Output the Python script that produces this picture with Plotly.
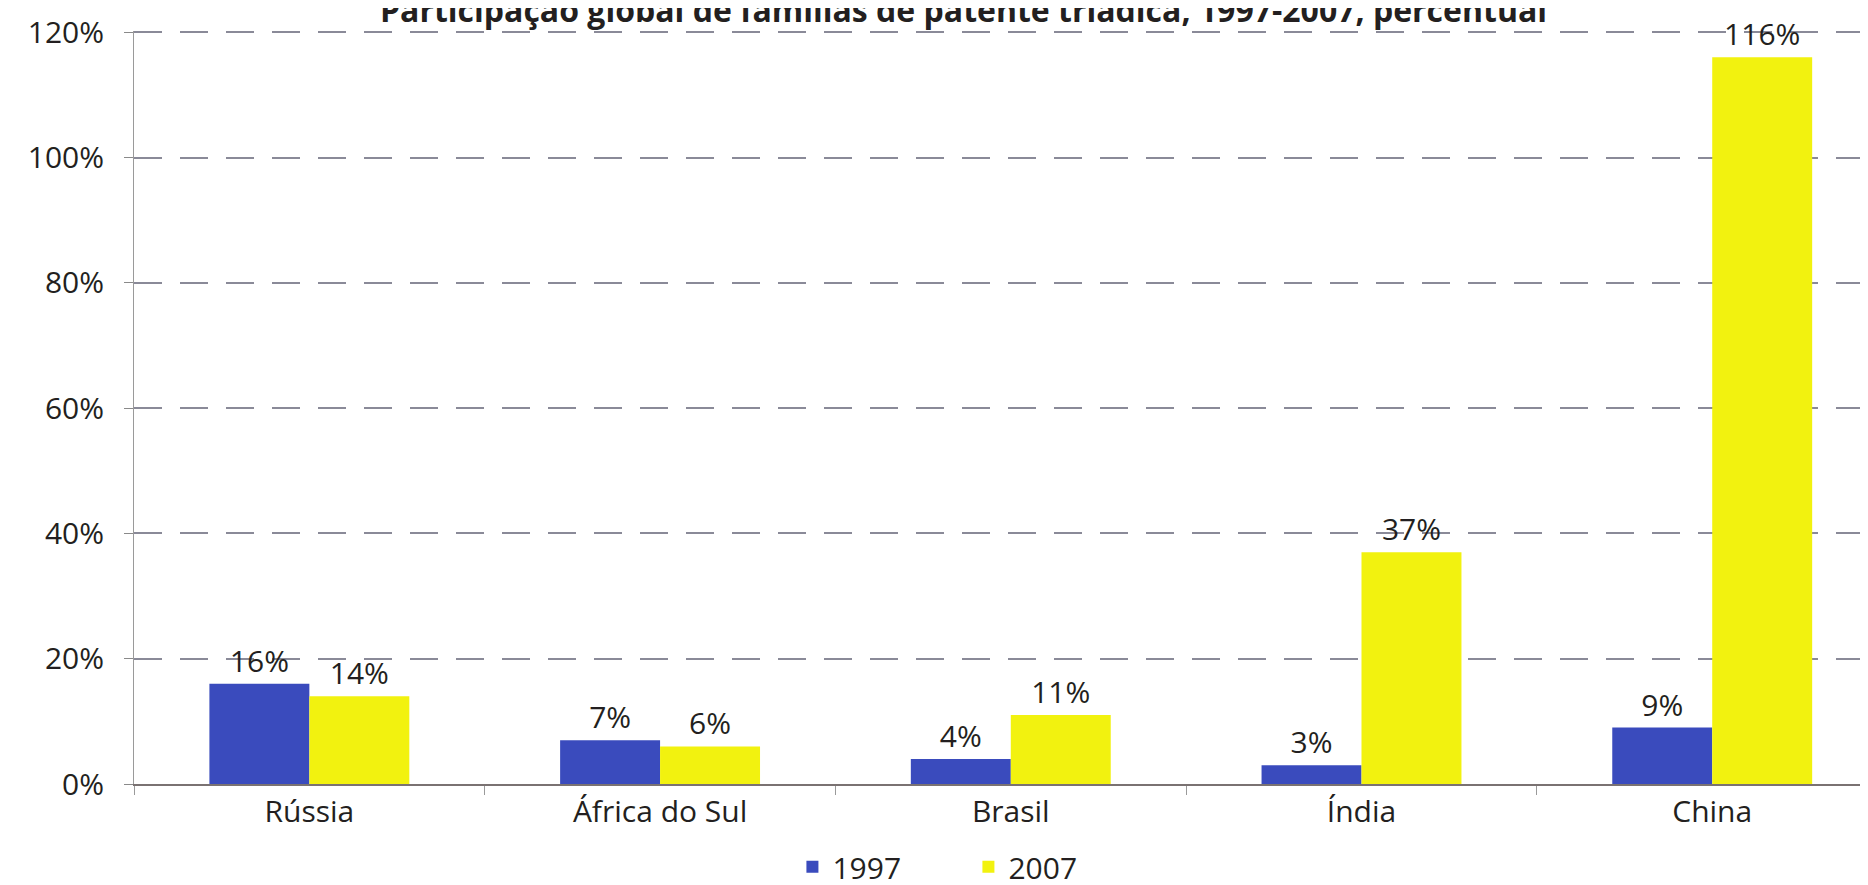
import plotly.graph_objects as go

# Triadic patent families, global share change 1997-2007
countries = ['Rússia', 'África do Sul', 'Brasil', 'Índia', 'China']
share_1997 = [16, 7, 4, 3, 9]
share_2007 = [14, 6, 11, 37, 116]
y_ticks = [0, 20, 40, 60, 80, 100, 120]
y_tick_labels = ['0%', '20%', '40%', '60%', '80%', '100%', '120%']

TITLE = 'Participação global de famílias de patente triádica, 1997-2007, percentual'
FONT = 'Open Sans'
TEXT_COLOR = '#231f20'
BLUE = '#3a4bbd'
YELLOW = '#f2f20f'
GRID = '#8a8a98'
FS = 30

fig = go.Figure()
fig.add_trace(go.Bar(
    x=countries, y=share_1997, name='1997',
    marker=dict(color=BLUE, line=dict(width=0)),
    text=[f'{v}%' for v in share_1997], textposition='outside',
    textfont=dict(size=FS, color=TEXT_COLOR, family=FONT),
    cliponaxis=False,
))
fig.add_trace(go.Bar(
    x=countries, y=share_2007, name='2007',
    marker=dict(color=YELLOW, line=dict(width=0)),
    text=[f'{v}%' for v in share_2007], textposition='outside',
    textfont=dict(size=FS, color=TEXT_COLOR, family=FONT),
    cliponaxis=False,
))

# title sits mostly above the page, as in the scanned original
fig.add_annotation(
    text=f'<b>{TITLE}</b>', xref='paper', yref='paper',
    x=0.476, y=1.028, xanchor='center', yanchor='middle',
    showarrow=False, font=dict(size=32, color=TEXT_COLOR, family=FONT),
)

fig.update_layout(
    width=1868, height=885,
    plot_bgcolor='white', paper_bgcolor='white',
    font=dict(family=FONT, color=TEXT_COLOR, size=FS),
    margin=dict(l=126, r=0, t=23, b=99),
    barmode='group', bargap=0.43, bargroupgap=0,
    showlegend=True,
    legend=dict(
        orientation='h', x=0.479, y=-0.11, xanchor='center', yanchor='middle',
        font=dict(size=FS, color=TEXT_COLOR, family=FONT),
        entrywidth=131, entrywidthmode='pixels', traceorder='normal',
    ),
)
fig.update_xaxes(
    range=[-0.5, 4.467], showline=True, linecolor='#7a7272', linewidth=1.5,
    ticks='outside', tickson='boundaries', ticklen=9, tickcolor='#9a9a9a',
    tickfont=dict(size=FS, color=TEXT_COLOR, family=FONT),
    showgrid=False, zeroline=False,
)
fig.update_yaxes(
    range=[0, 120.2], tickvals=y_ticks, ticktext=y_tick_labels,
    showline=True, linecolor='#9a9a9a', linewidth=1,
    ticks='outside', ticklen=9, tickcolor='#8a8a8a', ticklabelstandoff=14,
    tickfont=dict(size=FS, color=TEXT_COLOR, family=FONT),
    showgrid=True, gridcolor=GRID, gridwidth=1.5, griddash='28px,18px',
    zeroline=False,
)

fig.write_html('out.html')
